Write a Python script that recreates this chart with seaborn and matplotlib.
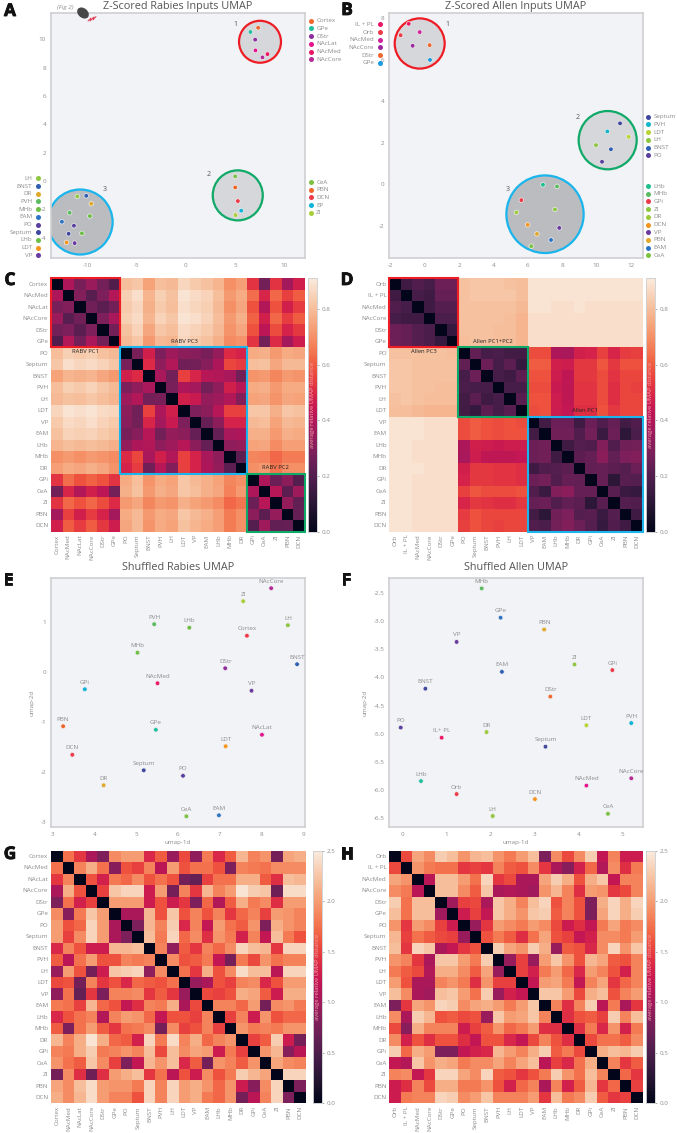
import numpy as np
import pandas as pd
import seaborn as sns
import matplotlib
matplotlib.use("Agg")
import matplotlib.pyplot as plt
import matplotlib.patheffects as pe
from matplotlib.patches import Ellipse, Rectangle

# colours of each region
COLORS = {"Cortex": "#f2672e", "GPe": "#1fbf9f", "DStr": "#8e2d9e", "NAcLat": "#e6148f", "NAcMed": "#ee1666",
          "NAcCore": "#b52a96", "CeA": "#7cc242", "PBN": "#f0642a", "DCN": "#ef3a49", "EP": "#0db3d9",
          "ZI": "#a8cf38", "LH": "#8dc63f", "BNST": "#2f5fb3", "DR": "#e0a92a", "PVH": "#5cba60",
          "MHb": "#6cbf44", "EAM": "#2d74c4", "PO": "#5a3fa0", "Septum": "#3f479f", "LHb": "#6cbf44",
          "LDT": "#f7941d", "VP": "#6a3aa0", "GPi": "#0db3d9"}
COLORS_B = {"IL + PL": "#ee1666", "Orb": "#ef3a49", "NAcMed": "#d0249c", "NAcCore": "#9c2a9e", "DStr": "#f2672e",
            "GPe": "#1a9ae0", "Septum": "#3f479f", "PVH": "#12b5c9", "LDT": "#b7d334", "LH": "#8dc63f",
            "BNST": "#2f5fb3", "PO": "#5a3fa0", "LHb": "#1fbf8f", "MHb": "#5cba60", "GPi": "#ef3a49",
            "ZI": "#8dc63f", "DR": "#9ccb3b", "DCN": "#f7941d", "VP": "#6a3aa0", "PBN": "#e0a92a",
            "EAM": "#2d74c4", "CeA": "#7cc242"}
COLORS_E = dict(COLORS, GPi="#0db3d9", Cortex="#ef3a49", PBN="#f0642a", NAcCore="#b52a96")
COLORS_F = dict(COLORS_B, **{"IL+ PL": "#ee1666", "GPe": "#2d74c4", "PVH": "#0db3d9", "NAcMed": "#e6148f",
                             "NAcCore": "#b52a96", "LHb": "#1fbf9f", "BNST": "#3f479f", "EAM": "#2f5fb3"})

# panel A
a_names = ["Cortex", "GPe", "DStr", "NAcLat", "NAcMed", "NAcCore", "CeA", "PBN", "DCN", "EP", "ZI",
           "LH", "BNST", "DR", "PVH", "MHb", "EAM", "PO", "Septum", "LHb", "LDT", "VP"]
a_x = [7.34, 6.56, 7.04, 7.07, 8.29, 7.78, 5.01, 5.01, 5.28, 5.62, 5.04,
       -11.03, -10.12, -9.61, -11.81, -9.75, -12.59, -11.37, -11.91, -10.56, -12.12, -11.3]
a_y = [10.82, 10.52, 9.98, 9.22, 8.96, 8.73, 0.33, -0.45, -1.41, -2.09, -2.40,
       -1.08, -1.04, -1.6, -2.24, -2.47, -2.87, -3.15, -3.72, -3.69, -4.33, -4.38]
# panel B
b_names = ["IL + PL", "NAcMed", "Orb", "NAcCore", "DStr", "GPe", "Septum", "PVH", "LDT", "LH", "BNST", "PO",
           "LHb", "MHb", "GPi", "ZI", "DR", "DCN", "VP", "PBN", "EAM", "CeA"]
b_x = [-0.93, -0.29, -1.4, -0.7, 0.29, 0.31, 11.38, 10.64, 11.88, 9.98, 10.85, 10.33,
       6.89, 7.71, 5.63, 7.59, 5.34, 6.0, 7.84, 6.54, 7.36, 6.21]
b_y = [7.74, 7.34, 7.19, 6.68, 6.71, 6.0, 2.94, 2.55, 2.29, 1.89, 1.69, 1.09,
       -0.02, -0.1, -0.76, -1.21, -1.35, -1.95, -2.1, -2.39, -2.68, -2.98]
# panel E
e_names = ["NAcCore", "ZI", "PVH", "LHb", "LH", "Cortex", "MHb", "DStr", "BNST", "NAcMed", "GPi", "VP",
           "PBN", "GPe", "NAcLat", "LDT", "DCN", "Septum", "PO", "DR", "EAM", "CeA"]
e_x = [8.23, 7.56, 5.43, 6.27, 8.63, 7.65, 5.03, 7.13, 8.85, 5.51, 3.77, 7.76,
       3.25, 5.47, 8.01, 7.14, 3.47, 5.18, 6.12, 4.22, 6.98, 6.2]
e_y = [1.67, 1.41, 0.95, 0.88, 0.93, 0.72, 0.38, 0.07, 0.15, -0.23, -0.35, -0.38,
       -1.09, -1.16, -1.26, -1.49, -1.66, -1.97, -2.08, -2.27, -2.87, -2.89]
# panel F
f_names = ["MHb", "GPe", "PBN", "VP", "ZI", "GPi", "EAM", "BNST", "DStr", "PO", "PVH", "LDT", "DR",
           "IL+ PL", "Septum", "NAcCore", "LHb", "NAcMed", "Orb", "DCN", "CeA", "LH"]
f_x = [1.80, 2.23, 3.22, 1.23, 3.91, 4.77, 2.26, 0.52, 3.36, -0.04, 5.2, 4.18, 1.91,
       0.89, 3.25, 5.2, 0.42, 4.18, 1.23, 3.01, 4.67, 2.05]
f_y = [-2.42, -2.94, -3.15, -3.37, -3.77, -3.87, -3.90, -4.2, -4.34, -4.89, -4.81, -4.85, -4.97,
       -5.07, -5.23, -5.79, -5.84, -5.92, -6.07, -6.16, -6.42, -6.46]

# heatmap labels
labels_rabies = ["Cortex", "NAcMed", "NAcLat", "NAcCore", "DStr", "GPe", "PO", "Septum", "BNST", "PVH", "LH",
                 "LDT", "VP", "EAM", "LHb", "MHb", "DR", "GPi", "CeA", "ZI", "PBN", "DCN"]
labels_allen = ["Orb", "IL + PL", "NAcMed", "NAcCore", "DStr", "GPe", "PO", "Septum", "BNST", "PVH", "LH",
                "LDT", "VP", "EAM", "LHb", "MHb", "DR", "GPi", "CeA", "ZI", "PBN", "DCN"]

# upper triangles, one row per region
c_upper = [
    [.39, .28, .35, .27, .19, .80, .82, .74, .80, .79, .86, .83, .81, .78, .70, .73, .52, .27, .52, .37, .47],
    [.30, .21, .29, .40, .84, .88, .78, .84, .81, .89, .87, .85, .80, .72, .76, .63, .49, .62, .55, .60],
    [.26, .22, .27, .83, .86, .77, .83, .80, .88, .86, .84, .79, .70, .75, .58, .40, .58, .47, .54],
    [.29, .38, .84, .87, .78, .85, .82, .89, .88, .85, .80, .72, .77, .61, .47, .62, .54, .60],
    [.27, .81, .85, .75, .82, .80, .87, .85, .83, .79, .71, .75, .58, .42, .57, .48, .53],
    [.79, .82, .72, .79, .78, .86, .83, .81, .77, .69, .71, .52, .27, .50, .37, .46],
    [.28, .47, .29, .36, .32, .31, .28, .34, .50, .48, .76, .77, .72, .76, .75],
    [.50, .33, .40, .26, .27, .31, .39, .56, .54, .80, .81, .75, .79, .79],
    [.38, .27, .55, .49, .41, .40, .38, .26, .71, .72, .68, .72, .71],
    [.28, .39, .37, .27, .33, .47, .41, .76, .77, .72, .76, .76],
    [.47, .45, .34, .36, .40, .30, .74, .75, .71, .75, .74],
    [.29, .32, .41, .55, .55, .82, .82, .77, .82, .81],
    [.24, .32, .48, .48, .79, .80, .74, .79, .78],
    [.24, .38, .39, .77, .77, .72, .77, .76],
    [.33, .34, .74, .75, .69, .73, .73],
    [.22, .68, .67, .62, .66, .66],
    [.70, .72, .65, .70, .70],
    [.39, .25, .32, .20],
    [.41, .22, .36],
    [.34, .23],
    [.24],
]
d_upper = [
    [.15, .19, .17, .25, .25, .81, .82, .82, .82, .81, .80, .89, .89, .89, .89, .89, .89, .89, .89, .89, .89],
    [.17, .15, .24, .24, .81, .82, .82, .82, .82, .80, .89, .89, .89, .89, .89, .89, .89, .89, .89, .89],
    [.15, .20, .20, .81, .81, .81, .81, .81, .79, .89, .89, .88, .88, .89, .88, .88, .88, .88, .88],
    [.18, .18, .81, .81, .81, .81, .80, .78, .88, .88, .88, .88, .88, .88, .88, .88, .88, .88],
    [.13, .81, .81, .81, .80, .80, .78, .88, .88, .88, .88, .88, .88, .88, .88, .88, .88],
    [.80, .81, .81, .80, .80, .78, .88, .88, .88, .88, .88, .88, .88, .88, .88, .88],
    [.23, .17, .18, .16, .16, .57, .57, .39, .38, .47, .48, .55, .49, .54, .55],
    [.25, .17, .22, .13, .60, .60, .47, .46, .53, .53, .59, .53, .58, .58],
    [.17, .15, .22, .58, .58, .46, .43, .53, .53, .57, .52, .56, .56],
    [.17, .17, .57, .57, .45, .43, .52, .52, .57, .51, .56, .55],
    [.21, .58, .58, .46, .43, .52, .52, .57, .51, .56, .56],
    [.57, .58, .46, .44, .51, .51, .58, .53, .56, .56],
    [.16, .25, .25, .15, .25, .19, .24, .16, .19],
    [.26, .26, .19, .27, .14, .25, .11, .18],
    [.15, .20, .19, .30, .19, .26, .27],
    [.22, .24, .32, .23, .29, .30],
    [.23, .24, .22, .20, .25],
    [.24, .11, .21, .20],
    [.21, .14, .13],
    [.20, .19],
    [.15],
]
g_upper = [
    [1.75, 1.45, 1.05, .8, 1.9, 2.0, 2.0, 1.35, 1.65, .95, 1.55, .9, 1.8, 1.35, 1.65, 2.15, 1.85, 1.95, .75, 2.05, 2.1],
    [1.85, 2.1, 1.75, .85, 1.6, 1.5, 1.85, 1.15, 2.0, 1.6, 1.75, 1.75, 1.6, .8, 1.85, 1.8, 1.75, 1.9, 1.9, 1.9],
    [1.6, 1.3, 1.8, 1.7, 1.9, 1.6, 1.75, 1.6, .75, .65, 1.5, 1.75, 1.75, 2.1, 2.1, 1.65, 1.4, 2.2, 2.15],
    [1.5, 2.25, 2.35, 2.35, 1.25, 2.0, .75, 1.85, 1.45, 2.15, 1.85, 2.0, 2.45, 2.3, 2.25, .7, 2.4, 2.4],
    [2.0, 2.0, 2.0, 1.25, 1.6, 1.25, 1.45, .8, 1.7, 1.1, 1.65, 2.1, 1.8, 1.9, 1.4, 2.0, 2.0],
    [1.05, 1.05, 2.15, 1.6, 2.25, 1.6, 1.85, 1.6, 1.85, 1.45, 1.7, 1.85, 1.5, 2.0, 1.95, 1.85],
    [.8, 2.15, 1.85, 2.3, 1.35, 1.85, 1.2, 2.0, 1.75, 1.65, 1.95, .8, 2.1, 1.95, 1.85],
    [2.2, 1.8, 2.35, 1.7, 1.9, 1.4, 1.95, 1.8, 1.3, 1.85, 1.2, 2.2, 1.8, 1.6],
    [1.85, .9, 1.65, 1.45, 1.85, 1.7, 1.9, 2.35, 2.2, 2.15, 1.45, 2.35, 2.35],
    [1.9, 1.6, 1.65, 1.8, 1.2, .75, 1.8, 1.55, 1.95, 1.75, 1.85, 1.85],
    [1.75, 1.45, 2.1, 1.6, 1.9, 2.4, 2.2, 2.2, 1.15, 2.35, 2.35],
    [.95, 1.05, 1.6, 1.5, 1.85, 1.9, 1.35, 1.6, 2.0, 2.0],
    [1.55, 1.5, 1.6, 2.1, 2.05, 1.65, 1.25, 2.1, 2.1],
    [1.85, 1.85, 1.7, 2.0, .75, 1.9, 1.95, 1.8],
    [1.5, 1.85, 1.25, 1.95, 1.6, 1.7, 1.7],
    [1.95, 1.8, 1.85, 1.8, 1.95, 1.95],
    [1.5, 1.65, 2.3, 1.25, .75],
    [1.95, 2.15, .85, 1.15],
    [2.05, 1.9, 1.85],
    [2.35, 2.35],
    [.8],
]
h_upper = [
    [1.55, 2.05, 1.9, 2.3, 2.2, 1.95, 2.15, 2.2, 1.95, 1.8, 2.0, 2.2, .8, 1.9, 1.55, 1.9, 2.3, 1.2, 1.85, 1.25, 1.25],
    [1.95, 1.8, 1.75, 1.75, 1.45, 1.5, 1.45, 1.85, 1.65, 1.6, 1.9, 1.45, 1.05, .85, 1.3, 1.7, 1.1, 1.9, 1.4, 1.8],
    [1.15, 2.2, 2.2, 2.0, 1.75, 2.35, 1.45, 1.55, 1.05, 1.05, 2.05, 2.3, 2.1, 1.6, 2.1, 2.25, 1.2, 1.85, 1.85],
    [2.2, 2.2, 1.9, 1.65, 2.25, 1.05, 1.1, 1.05, 1.0, 1.95, 2.15, 1.85, 1.4, 2.0, 1.95, 1.45, 1.55, 1.85],
    [1.0, 1.5, 1.55, 1.05, 2.25, 2.1, 1.85, 2.2, 2.35, 1.6, 1.85, 1.6, .8, 2.1, 2.35, 2.1, 2.35],
    [1.25, 1.5, 1.2, 2.25, 2.1, 1.95, 2.25, 2.3, 1.65, 1.85, 1.6, .8, 2.05, 2.35, 2.1, 2.3],
    [.95, 1.45, 2.0, 1.9, 1.8, 2.0, 1.9, 1.55, 1.25, 1.4, 1.2, 1.8, 2.05, 1.8, 1.9],
    [1.6, 1.8, 1.65, 1.4, 1.75, 2.05, 1.6, 1.5, 1.2, 1.3, 1.9, 1.9, 1.8, 2.0],
    [2.3, 2.05, 1.95, 2.3, 2.1, .95, 1.65, 1.6, 1.35, 1.9, 2.35, 1.95, 2.25],
    [.95, 1.5, .95, 2.0, 2.25, 1.95, 1.6, 2.15, 2.05, 1.65, 1.6, 1.85],
    [1.5, 1.3, 1.8, 2.0, 1.7, 1.35, 2.0, 1.85, 1.6, 1.3, 1.85],
    [1.2, 2.0, 2.05, 1.8, 1.2, 1.85, 2.05, 1.45, 1.7, 1.85],
    [2.25, 2.25, 2.0, 1.55, 2.1, 2.2, 1.6, 1.85, 2.0],
    [1.85, 1.4, 1.85, 2.3, 1.15, 1.8, 1.05, 1.45],
    [1.4, 1.6, 1.65, 1.5, 2.3, 1.85, 2.2],
    [1.4, 1.8, 1.35, 1.95, 1.3, 1.8],
    [1.55, 1.75, 1.75, 1.65, 1.9],
    [2.1, 2.2, 2.15, 2.3],
    [1.85, 1.45, 1.65],
    [1.7, 1.45],
    [1.5],
]

W, H = 677, 1133
GRAY = "#8c8c8c"
BG = "#f2f3f6"
RED, GREEN, BLUE = "#ee1c25", "#0fa968", "#19b5ec"
FS = 4.5

sns.set_theme(style="white")
plt.rcParams["font.family"] = ["Open Sans", "DejaVu Sans"]
plt.rcParams["axes.unicode_minus"] = False

fig = plt.figure(figsize=(W / 100, H / 100), dpi=100, facecolor="white")


def px_axes(l, t, r, b):
    return fig.add_axes([l / W, 1 - b / H, (r - l) / W, (b - t) / H])


def mirror(upper):
    n = len(upper) + 1
    m = np.zeros((n, n))
    for i, row in enumerate(upper):
        m[i, i + 1:] = row
    return m + m.T


def scatter_panel(box, names, x, y, palette, xlim, ylim, xticks, yticks, circles=(), point_labels=False):
    ax = px_axes(*box)
    ax.set_facecolor(BG)
    for cx, cy, w, h, col, fill in circles:
        ax.add_patch(Ellipse((cx, cy), w, h, facecolor=fill, edgecolor=col, lw=1.6, zorder=1))
    df = pd.DataFrame({"name": names, "x": x, "y": y})
    sns.scatterplot(data=df, x="x", y="y", hue="name", palette=palette, s=11, linewidth=0.5,
                    edgecolor="#eeeeee", legend=False, ax=ax, zorder=3)
    ax.set_xlim(xlim)
    ax.set_ylim(ylim)
    ax.set_xticks(xticks)
    ax.set_yticks(yticks)
    ax.set_xlabel("")
    ax.set_ylabel("")
    ax.tick_params(labelsize=FS, colors=GRAY, length=1.5, width=0.5, pad=2)
    for s in ax.spines.values():
        s.set_color("#cfd0d2")
        s.set_linewidth(1.2)
    if point_labels:
        for n, px, py in zip(names, x, y):
            ax.annotate(n, (px, py), xytext=(0, 5), textcoords="offset points", ha="center", va="center",
                        fontsize=FS, color=GRAY, annotation_clip=False)
    return ax


def heat_panel(box, cbar_box, upper, labels, vmax, cticks, blocks=()):
    ax = px_axes(*box)
    cax = px_axes(*cbar_box)
    df = pd.DataFrame(mirror(upper), index=labels, columns=labels)
    sns.heatmap(df, ax=ax, cbar_ax=cax, cmap="rocket", vmin=0, vmax=vmax, xticklabels=True, yticklabels=True)
    ax.tick_params(labelsize=FS, colors=GRAY, length=0, pad=2)
    plt.setp(ax.get_xticklabels(), rotation=90)
    plt.setp(ax.get_yticklabels(), rotation=0)
    cax.set_yticks(cticks)
    cax.set_yticklabels(["%.1f" % t for t in cticks])
    cax.tick_params(labelsize=FS, colors=GRAY, length=1.5, width=0.5, pad=2)
    for s in cax.spines.values():
        s.set_visible(True)
        s.set_color("#cfd0d2")
        s.set_linewidth(0.5)
    cax.text(0.5, 0.5, "average relative UMAP distance", transform=cax.transAxes, rotation=90, ha="center",
             va="center", fontsize=4.2, color="#f5a5b0")
    for start, end, col in blocks:
        ax.add_patch(Rectangle((start, start), end - start, end - start, fill=False, edgecolor=col, lw=1.5,
                               clip_on=False, zorder=5))
    return ax


LEFT, RIGHT = 51, 305
LEFT2, RIGHT2 = 389.3, 642.7

circles_a = [(7.53, 9.83, 4.26, 2.96, RED, "#d6d7da"), (5.27, -1.01, 5.08, 3.53, GREEN, "#d6d7da"),
             (-10.74, -2.89, 6.6, 4.59, BLUE, "#bbbcbf")]
circles_b = [(-0.29, 6.79, 2.91, 2.42, RED, "#d6d7da"), (10.66, 2.13, 3.38, 2.81, GREEN, "#d6d7da"),
             (7.01, -1.44, 4.5, 3.74, BLUE, "#bbbcbf")]

scatter_panel((LEFT, 13, RIGHT, 258), a_names, a_x, a_y, COLORS, (-13.7, 12.1), (-5.43, 11.86),
              [-10, -5, 0, 5, 10], [-4, -2, 0, 2, 4, 6, 8, 10], circles_a)
scatter_panel((LEFT2, 13, RIGHT2, 258), b_names, b_x, b_y, COLORS_B, (-2.06, 12.7), (-3.55, 8.26),
              list(range(-2, 13, 2)), [-2, 0, 2, 4, 6, 8], circles_b)

heat_panel((LEFT, 278.3, RIGHT, 531.7), (308.3, 278.3, 316.7, 531.7), c_upper, labels_rabies, 0.91,
           [0, .2, .4, .6, .8], [(0, 6, RED), (6, 17, BLUE), (17, 22, GREEN)])
heat_panel((LEFT2, 278.3, RIGHT2, 531.7), (646, 278.3, 655, 531.7), d_upper, labels_allen, 0.91,
           [0, .2, .4, .6, .8], [(0, 6, RED), (6, 12, GREEN), (12, 22, BLUE)])

ax_e = scatter_panel((LEFT, 577.7, RIGHT, 827.3), e_names, e_x, e_y, COLORS_E, (2.96, 9.04), (-3.11, 1.88),
                     list(range(3, 10)), [-3, -2, -1, 0, 1], point_labels=True)
ax_f = scatter_panel((LEFT2, 577.7, RIGHT2, 827.3), f_names, f_x, f_y, COLORS_F, (-0.3, 5.46), (-6.66, -2.23),
                     list(range(0, 6)), [-6.5, -6, -5.5, -5, -4.5, -4, -3.5, -3, -2.5], point_labels=True)
for ax in (ax_e, ax_f):
    ax.set_xlabel("umap-1d", fontsize=FS, color=GRAY, labelpad=2)
    ax.set_ylabel("umap-2d", fontsize=FS, color=GRAY, labelpad=4)

heat_panel((LEFT, 850.7, 306, 1103.3), (312.7, 850.7, 321.7, 1103.3), g_upper, labels_rabies, 2.5,
           [0, .5, 1, 1.5, 2, 2.5])
heat_panel((LEFT2, 850.7, RIGHT2, 1103.3), (646, 850.7, 655, 1103.3), h_upper, labels_allen, 2.5,
           [0, .5, 1, 1.5, 2, 2.5])

# overlay in picture pixels for legends, letters and notes
top = fig.add_axes([0, 0, 1, 1], zorder=10)
top.set_xlim(0, W)
top.set_ylim(H, 0)
top.axis("off")


def cluster_legend(names, palette, mx, y0, side):
    for i, n in enumerate(names):
        y = y0 + i * 7.7
        top.scatter([mx], [y], s=13, color=palette[n], linewidth=0, clip_on=False)
        tx = mx + 5.5 if side == "right" else mx - 5.5
        top.text(tx, y, n, fontsize=FS, color=GRAY, va="center", ha="left" if side == "right" else "right")


cluster_legend(["Cortex", "GPe", "DStr", "NAcLat", "NAcMed", "NAcCore"], COLORS, 310.7, 20.7, "right")
cluster_legend(["CeA", "PBN", "DCN", "EP", "ZI"], COLORS, 310.7, 182, "right")
cluster_legend(["LH", "BNST", "DR", "PVH", "MHb", "EAM", "PO", "Septum", "LHb", "LDT", "VP"], COLORS, 37.7, 178.3, "left")
cluster_legend(["IL + PL", "Orb", "NAcMed", "NAcCore", "DStr", "GPe"], COLORS_B, 379.7, 24.3, "left")
cluster_legend(["Septum", "PVH", "LDT", "LH", "BNST", "PO"], COLORS_B, 648.3, 116.7, "right")
cluster_legend(["LHb", "MHb", "GPi", "ZI", "DR", "DCN", "VP", "PBN", "EAM", "CeA"], COLORS_B, 648.3, 186, "right")

for txt, x, y in [("1", 235.7, 24.7), ("2", 209, 174.7), ("3", 104.3, 189.3),
                  ("1", 447, 24.7), ("2", 577.7, 117.7), ("3", 507.7, 189.3)]:
    top.text(x, y, txt, fontsize=5, color="#555555", ha="center", va="center")

for txt, x, y in [("RABV PC1", 85.7, 351.7), ("RABV PC3", 184.3, 341.7), ("RABV PC2", 275.3, 467.3),
                  ("Allen PC3", 424, 351.7), ("Allen PC1+PC2", 492.7, 341.7), ("Allen PC1", 585, 411)]:
    top.text(x, y, txt, fontsize=4.2, color="#222222", ha="center", va="center")

for txt, x, y in [("Z-Scored Rabies Inputs UMAP", 178, 6), ("Z-Scored Allen Inputs UMAP", 516, 6),
                  ("Shuffled Rabies UMAP", 178, 567.7), ("Shuffled Allen UMAP", 516, 567.7)]:
    top.text(x, y, txt, fontsize=7.8, color="#555555", ha="center", va="center")

for txt, x, y in [("A", 10, 11), ("B", 347, 10), ("C", 10, 280), ("D", 347, 280),
                  ("E", 8, 580), ("F", 346, 580), ("G", 10, 854), ("H", 347, 854)]:
    top.text(x, y, txt, fontsize=12.5, fontweight="bold", color="#111111", ha="center", va="center",
             path_effects=[pe.withStroke(linewidth=0.6, foreground="#111111")])

top.text(65, 7, "(Fig 2)", fontsize=FS, style="italic", color=GRAY, ha="center", va="center")

# little mouse next to the title
top.add_patch(Ellipse((83, 13), 13, 9.5, angle=40, facecolor="#474747", edgecolor="none"))
top.plot([88, 91, 90, 94, 93, 96], [21, 18, 21, 17, 20, 16.5], color="#e0405a", lw=0.7)

plt.savefig("out.png", dpi=100)
